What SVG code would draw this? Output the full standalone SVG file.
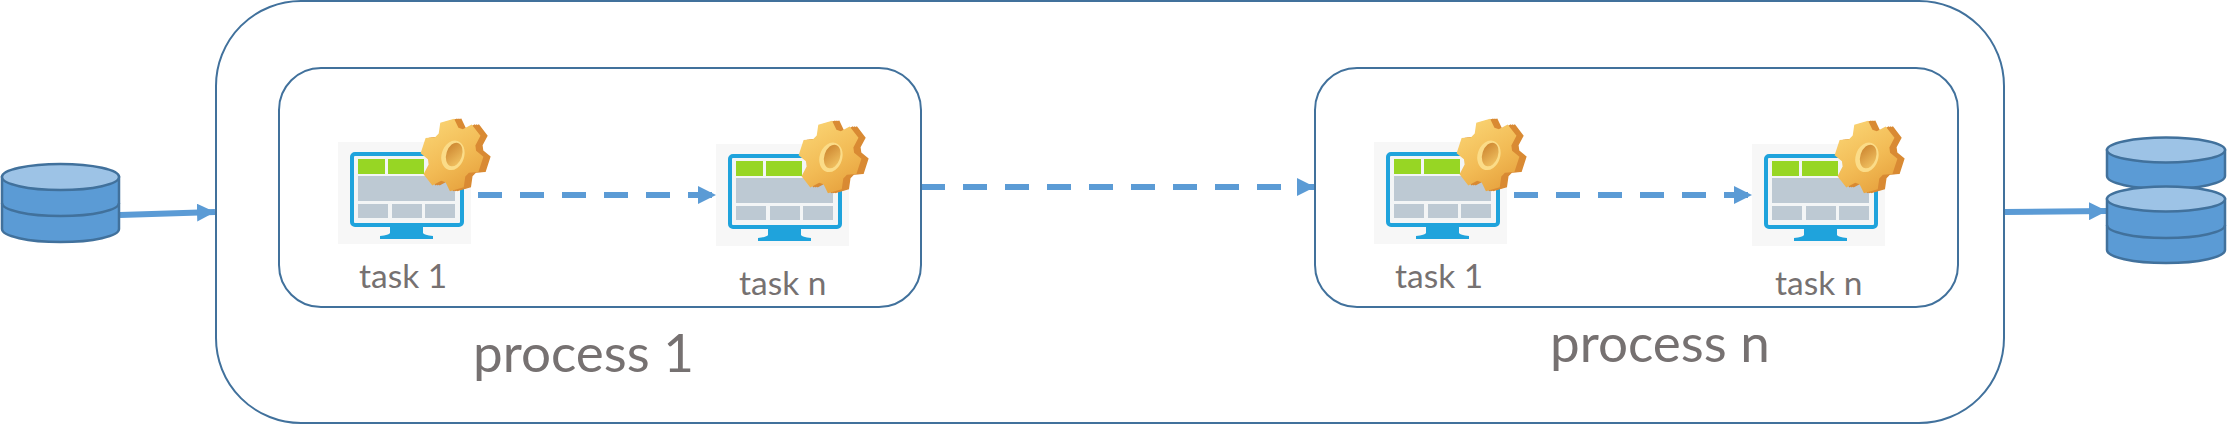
<svg xmlns="http://www.w3.org/2000/svg" xmlns:xlink="http://www.w3.org/1999/xlink" width="2227" height="424" viewBox="0 0 2227 424">
<style>
.box{fill:none;stroke:#41719c;stroke-width:2}
.lbl{font-family:Lato,"Liberation Sans",sans-serif;fill:#767171}
.t{font-size:33.500px}
.p{font-size:53px}
.flow{fill:none;stroke:#5b9bd5;stroke-width:6}
.dash{stroke-dasharray:24 18}
.db{stroke:#41719c;stroke-width:2.500}
.body{fill:#5b9bd5}
.top{fill:#9dc3e6}
.arc{fill:none}
</style>
<defs>
<marker id="ah" markerUnits="userSpaceOnUse" markerWidth="18" markerHeight="18" refX="18" refY="9" orient="auto"><path d="M0 0L18 9L0 18Z" fill="#5b9bd5"/></marker>
<linearGradient id="gf" x1="0" y1="0" x2="1" y2="1"><stop offset="0" stop-color="#fbd777"/><stop offset=".55" stop-color="#f2bb55"/><stop offset="1" stop-color="#e49c38"/></linearGradient>
<linearGradient id="gh" x1="0" y1="0" x2="1" y2="1"><stop offset="0" stop-color="#c9802c"/><stop offset="1" stop-color="#f5c866"/></linearGradient>
<polygon id="gearShape" points="22,-10 31,-7 31,7 22,10 19.66,14.05 21.56,23.35 9.44,30.35 2.34,24.05 -2.34,24.05 -9.44,30.35 -21.56,23.35 -19.66,14.05 -22,10 -31,7 -31,-7 -22,-10 -19.66,-14.05 -21.56,-23.35 -9.44,-30.35 -2.34,-24.05 2.34,-24.05 9.44,-30.35 21.56,-23.35 19.66,-14.05"/>
<g id="icon">
<rect x="0" y="0" width="133" height="102" fill="#f7f7f7"/>
<path d="M52 83H85V91Q86 93 95 94V97H42V94Q51 93 52 91Z" fill="#1fa3dc"/>
<rect x="14" y="12" width="110" height="71" rx="3" fill="#f3f5f6" stroke="#1fa3dc" stroke-width="4"/>
<rect x="20" y="17" width="27" height="15" fill="#97d624"/>
<rect x="50" y="17" width="36" height="15" fill="#97d624"/>
<rect x="20" y="34" width="97" height="25" fill="#bdc9d3"/>
<rect x="20" y="62" width="30" height="14" fill="#bdc9d3"/>
<rect x="54" y="62" width="30" height="14" fill="#bdc9d3"/>
<rect x="87" y="62" width="30" height="14" fill="#bdc9d3"/>
<g transform="translate(114 13) rotate(18) scale(.98 1.16)">
<g fill="#d98a33">
<use href="#gearShape" transform="translate(7 -2)"/>
<use href="#gearShape" transform="translate(5 -1.500)"/>
<use href="#gearShape" transform="translate(3 -1)"/>
</g>
<use href="#gearShape" fill="url(#gf)"/>
<ellipse cx="1" cy="0" rx="11.500" ry="13" fill="#fbdc88"/>
<ellipse cx="2" cy="-1" rx="8" ry="10.500" fill="url(#gh)"/>
</g>
</g>
</defs>
<g id="connectors">
<path class="flow" d="M120 215L215 212" marker-end="url(#ah)"/>
<path class="flow dash" d="M478 195H716" marker-end="url(#ah)"/>
<path class="flow dash" d="M921 187H1315" marker-end="url(#ah)"/>
<path class="flow dash" d="M1514 195H1752" marker-end="url(#ah)"/>
<path class="flow" d="M2005 212L2107 211" marker-end="url(#ah)"/>
</g>
<g id="outer-box"><rect class="box" x="216" y="1" width="1788" height="422" rx="85"/></g>
<g id="process-1">
<rect class="box" x="279" y="68" width="642" height="239" rx="42"/>
<text class="lbl p" x="473" y="372">process 1</text>
</g>
<g id="process-n">
<rect class="box" x="1315" y="68" width="643" height="239" rx="42"/>
<text class="lbl p" x="1550" y="362">process n</text>
</g>
<g id="task-1a"><use href="#icon" x="338" y="142"/><text class="lbl t" x="359" y="288">task 1</text></g>
<g id="task-na"><use href="#icon" x="716" y="144"/><text class="lbl t" x="739" y="295">task n</text></g>
<g id="task-1b"><use href="#icon" x="1374" y="142"/><text class="lbl t" x="1395" y="288">task 1</text></g>
<g id="task-nb"><use href="#icon" x="1752" y="144"/><text class="lbl t" x="1775" y="295">task n</text></g>
<g id="source-db" class="db">
<path class="body" d="M2 177V229A58.500 13 0 0 0 119 229V177Z"/>
<path class="arc" d="M2 203A58.500 13 0 0 0 119 203"/>
<ellipse class="top" cx="60.500" cy="177" rx="58.500" ry="13"/>
</g>
<g id="target-db-top" class="db">
<path class="body" d="M2107 150V176A59 13 0 0 0 2225 176V150Z"/>
<ellipse class="top" cx="2166" cy="150" rx="59" ry="12.500"/>
</g>
<g id="target-db-bottom" class="db">
<path class="body" d="M2107 199V250A59 13 0 0 0 2225 250V199Z"/>
<path class="arc" d="M2107 225A59 13 0 0 0 2225 225"/>
<ellipse class="top" cx="2166" cy="199" rx="59" ry="12.500"/>
</g>
</svg>
